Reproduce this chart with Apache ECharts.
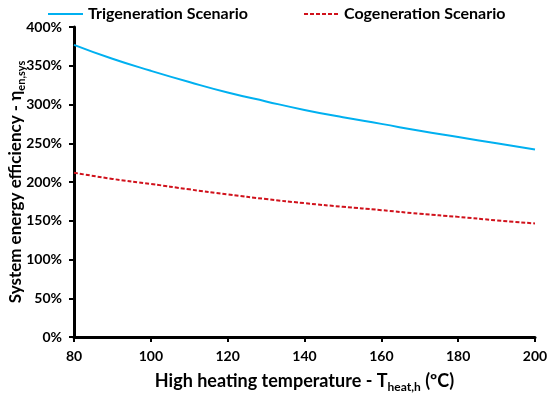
<!DOCTYPE html>
<html>
<head>
<meta charset="utf-8">
<script src="https://cdn.jsdelivr.net/npm/echarts@6/dist/echarts.min.js"></script>
<style>html,body{margin:0;padding:0;background:#fff;}#c{width:550px;height:394px;}</style>
</head>
<body>
<div id="c"></div>
<script>
const temps = [80, 90, 100, 110, 120, 130, 140, 150, 160, 170, 180, 190, 200];
const trigeneration = [377, 359, 343.5, 329, 315.5, 304, 293, 283.5, 275, 266, 258, 250, 242];
const cogeneration = [212, 204, 197.5, 190.5, 184, 178, 172.7, 168, 163.7, 159, 155, 150.5, 146.5];
const seriesNames = ['Trigeneration Scenario', 'Cogeneration Scenario'];

const font = 'Lato, "Open Sans", sans-serif';
const chart = echarts.init(document.getElementById('c'));
const pairs = (ys) => temps.map((t, i) => [t, ys[i]]);
const legendText = { fontSize: 16, fontWeight: 'bold', color: '#000', fontFamily: font };
chart.setOption({
  animation: false,
  textStyle: { fontFamily: font },
  grid: { left: 74, right: 15, top: 27, bottom: 57, containLabel: false, outerBoundsMode: 'none' },
  legend: [
    { data: [seriesNames[0]], left: 47, top: 6, padding: 0, itemWidth: 35, itemHeight: 10, itemGap: 5,
      itemStyle: { opacity: 0 }, textStyle: legendText },
    { data: [seriesNames[1]], left: 303, top: 6, padding: 0, itemWidth: 35, itemHeight: 10, itemGap: 5,
      itemStyle: { opacity: 0 }, textStyle: legendText }
  ],
  xAxis: {
    type: 'value', min: 80, max: 200, interval: 20,
    axisLine: { lineStyle: { color: '#000', width: 3 } },
    axisTick: { show: true, length: 5, lineStyle: { color: '#000', width: 2 } },
    splitLine: { show: false },
    axisLabel: { color: '#000', fontWeight: 'bold', fontSize: 14, margin: 12, fontFamily: font },
    name: '{a|High heating temperature - T}{s|heat,h}{a| (ºC)}',
    nameLocation: 'middle', nameGap: 35, nameMoveOverlap: false,
    nameTextStyle: {
      rich: {
        a: { fontSize: 18, fontWeight: 'bold', color: '#000', fontFamily: font, verticalAlign: 'bottom' },
        s: { fontSize: 12, fontWeight: 'bold', color: '#000', fontFamily: font, verticalAlign: 'bottom', padding: [0, 0, -3, 0] }
      }
    }
  },
  yAxis: {
    type: 'value', min: 0, max: 400, interval: 50,
    axisLine: { show: true, lineStyle: { color: '#000', width: 3 } },
    axisTick: { show: true, length: 5, lineStyle: { color: '#000', width: 2 } },
    splitLine: { show: false },
    axisLabel: { color: '#000', fontWeight: 'bold', fontSize: 14, margin: 12, formatter: '{value}%', fontFamily: font },
    name: '{a|System energy efficiency - η}{s|en,sys}',
    nameLocation: 'middle', nameGap: 50, nameMoveOverlap: false,
    nameTextStyle: {
      rich: {
        a: { fontSize: 17, fontWeight: 'bold', color: '#000', fontFamily: font, verticalAlign: 'bottom' },
        s: { fontSize: 11, fontWeight: 'bold', color: '#000', fontFamily: font, verticalAlign: 'bottom', padding: [0, 0, -3, 0] }
      }
    }
  },
  series: [
    { name: seriesNames[0], type: 'line', data: pairs(trigeneration), smooth: true, symbol: 'none',
      lineStyle: { color: '#00B0F0', width: 2 }, itemStyle: { color: '#00B0F0' } },
    { name: seriesNames[1], type: 'line', data: pairs(cogeneration), smooth: true, symbol: 'none',
      lineStyle: { color: '#D0111B', width: 2, type: [4, 2] }, itemStyle: { color: '#D0111B' } }
  ]
});
</script>
</body>
</html>
